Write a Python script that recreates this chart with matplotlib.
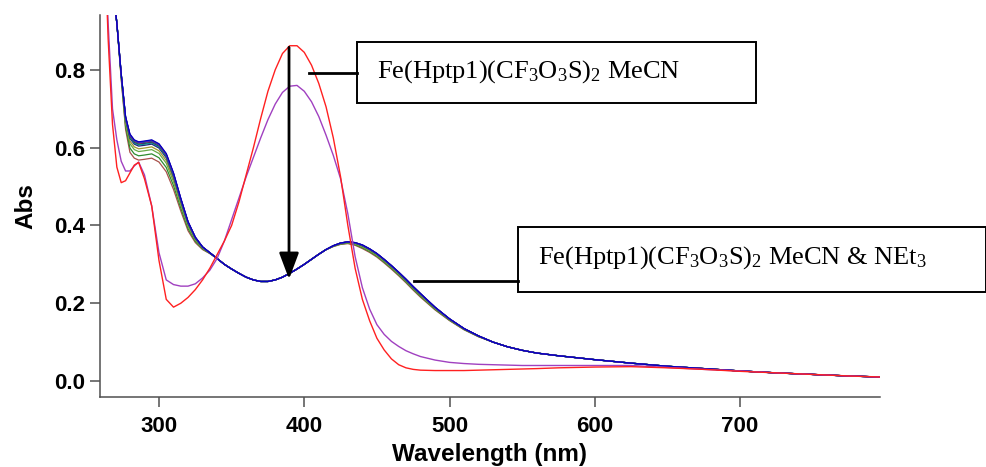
import matplotlib
matplotlib.use('Agg')
import matplotlib.pyplot as plt
import numpy as np
from matplotlib.patches import Rectangle
from matplotlib.lines import Line2D

plt.rcParams['mathtext.fontset'] = 'custom'
plt.rcParams['mathtext.rm'] = 'Liberation Serif'
plt.rcParams['mathtext.it'] = 'Liberation Serif:italic'

# wavelengths (nm) shared by every spectrum
wavelength = [262, 265, 268, 271, 274, 277, 280, 283, 286, 290, 295, 300, 305, 310,
              315, 320, 325, 330, 335, 340, 345, 350, 355, 360, 365, 370, 375, 380,
              385, 390, 395, 400, 405, 410, 415, 420, 425, 430, 435, 440, 445, 450,
              455, 460, 465, 470, 475, 480, 490, 500, 510, 520, 530, 540, 550, 560,
              575, 600, 625, 650, 675, 700, 725, 750, 775, 800]

# complex in MeCN (before base)
abs_mecn = [1.20, 0.88, 0.66, 0.55, 0.51, 0.515, 0.535, 0.555, 0.562, 0.52, 0.45, 0.31,
            0.21, 0.19, 0.20, 0.215, 0.235, 0.26, 0.29, 0.325, 0.36, 0.40, 0.46, 0.53,
            0.60, 0.675, 0.745, 0.80, 0.842, 0.862, 0.862, 0.845, 0.812, 0.765, 0.705,
            0.625, 0.525, 0.40, 0.29, 0.21, 0.155, 0.11, 0.08, 0.057, 0.042, 0.034, 0.030,
            0.028, 0.027, 0.027, 0.027, 0.028, 0.029, 0.030, 0.031, 0.032, 0.034, 0.036,
            0.037, 0.034, 0.030, 0.025, 0.021, 0.017, 0.013, 0.010]

# first spectrum after NEt3 addition
abs_first = [1.20, 0.92, 0.70, 0.62, 0.565, 0.54, 0.54, 0.553, 0.563, 0.53, 0.45, 0.33,
             0.26, 0.248, 0.244, 0.244, 0.25, 0.265, 0.285, 0.315, 0.36, 0.415, 0.47,
             0.525, 0.575, 0.625, 0.672, 0.712, 0.742, 0.758, 0.76, 0.745, 0.718, 0.68,
             0.632, 0.58, 0.52, 0.43, 0.32, 0.24, 0.185, 0.145, 0.12, 0.102, 0.089, 0.078,
             0.07, 0.063, 0.054, 0.048, 0.045, 0.043, 0.042, 0.041, 0.040, 0.040, 0.040,
             0.040, 0.040, 0.035, 0.030, 0.026, 0.021, 0.017, 0.013, 0.010]

# MeCN & NEt3 series, upper trace
abs_series = [1.30, 1.15, 1.02, 0.92, 0.79, 0.68, 0.635, 0.62, 0.615, 0.617, 0.62, 0.61,
              0.585, 0.535, 0.47, 0.41, 0.37, 0.345, 0.33, 0.315, 0.30, 0.288, 0.277,
              0.267, 0.26, 0.256, 0.256, 0.26, 0.267, 0.277, 0.288, 0.30, 0.313, 0.326,
              0.338, 0.348, 0.355, 0.358, 0.356, 0.35, 0.34, 0.328, 0.313, 0.297, 0.28,
              0.262, 0.243, 0.225, 0.19, 0.16, 0.135, 0.116, 0.10, 0.088, 0.079, 0.072,
              0.065, 0.055, 0.046, 0.038, 0.032, 0.026, 0.021, 0.017, 0.013, 0.010]

# where the series traces spread apart (shoulder, descending edge)
shoulder_weight = [0, 0, 0, 0, 0.3, 0.7, 1, 1, 1, 1, 1, 1, 1, 0.9, 0.7, 0.5, 0.3, 0.15,
                   0.05, 0, 0, 0, 0, 0, 0, 0, 0, 0, 0, 0, 0, 0, 0, 0, 0, 0.05, 0.08, 0.1,
                   0.15, 0.2, 0.2, 0.2, 0.2, 0.2, 0.2, 0.2, 0.2, 0.2, 0.15, 0.1, 0.07, 0.05,
                   0, 0, 0, 0, 0, 0, 0, 0, 0, 0, 0, 0, 0, 0]

# shoulder height (~296 nm) of each series trace
series_shoulder = [0.575, 0.586, 0.597, 0.604, 0.611, 0.614, 0.616, 0.617, 0.618,
                   0.619, 0.620, 0.621, 0.622]
series_colors = ['#a8504a', '#2e8b2e', '#66aa44', '#a09a30', '#202080', '#008080',
                 '#20c0c0', '#000000', '#d020d0', '#00a000', '#2020ff', '#8020a0',
                 '#0000c0']

wl = np.array(wavelength)
base = np.array(abs_series)
weight = np.array(shoulder_weight)

fig = plt.figure(figsize=(9.87, 4.67), dpi=100)
ax = fig.add_axes([100/987, 1 - 397/467, 780/987, 382/467])

for h, c in zip(series_shoulder, series_colors):
    ax.plot(wl, base + (h - 0.622) * weight, color=c, lw=0.9)

ax.plot(wl, abs_first, color='#a040c0', lw=1.0)
ax.plot(wl, abs_mecn, color='#ff2020', lw=1.0)

ax.set_xlim(259.4, 796.3)
ax.set_ylim(-0.041, 0.941)
ax.set_xticks([300, 400, 500, 600, 700])
ax.set_yticks([0.0, 0.2, 0.4, 0.6, 0.8])
ax.set_yticklabels(['0.0', '0.2', '0.4', '0.6', '0.8'])

for side in ['top', 'right']:
    ax.spines[side].set_visible(False)
for side in ['left', 'bottom']:
    ax.spines[side].set_color('#505050')
    ax.spines[side].set_linewidth(1.1)

ax.tick_params(axis='both', direction='out', length=7, width=1.1, color='#505050',
               labelsize=16)
ax.tick_params(axis='x', pad=7)
ax.tick_params(axis='y', pad=3.5)
for lab in ax.get_xticklabels() + ax.get_yticklabels():
    lab.set_fontfamily('Liberation Sans')
    lab.set_fontweight('bold')

ax.set_xlabel('Wavelength (nm)', fontsize=17.5, fontweight='bold',
              family='Liberation Sans', labelpad=4)
ax.set_ylabel('Abs', fontsize=17.5, fontweight='bold', family='Liberation Sans',
              labelpad=12)

# arrow showing the drop of the 390 nm band
ax.annotate('', xy=(389.5, 0.262), xytext=(389.5, 0.858),
            arrowprops=dict(arrowstyle='-|>,head_length=0.8,head_width=0.3',
                            mutation_scale=20, lw=2, color='black',
                            shrinkA=0, shrinkB=0))


def px(x, y):
    return (x / 987, 1 - y / 467)


def label_box(x0, y0, x1, y1, text, tx, ty, line_from):
    rect = Rectangle(px(x0, y1), (x1 - x0) / 987, (y1 - y0) / 467,
                     transform=fig.transFigure, fill=False, lw=1.4, ec='black')
    fig.add_artist(rect)
    lx, ly = line_from
    a, b = px(lx, ly)
    c, d = px(x0, ly)
    fig.add_artist(Line2D([a, c], [b, d], transform=fig.transFigure,
                          color='black', lw=2))
    fig.text(*px(tx, ty), text, family='Liberation Serif', fontsize=19,
             ha='left', va='baseline')


label_box(356.7, 41.7, 756, 103.3, r'Fe(Hptp1)(CF$_3$O$_3$S)$_2$ MeCN',
          376.7, 78, (309, 73.3))
label_box(518.3, 227.3, 986, 292.3, r'Fe(Hptp1)(CF$_3$O$_3$S)$_2$ MeCN & NEt$_3$',
          538, 264, (414, 281))

fig.savefig('out.png', dpi=100)
